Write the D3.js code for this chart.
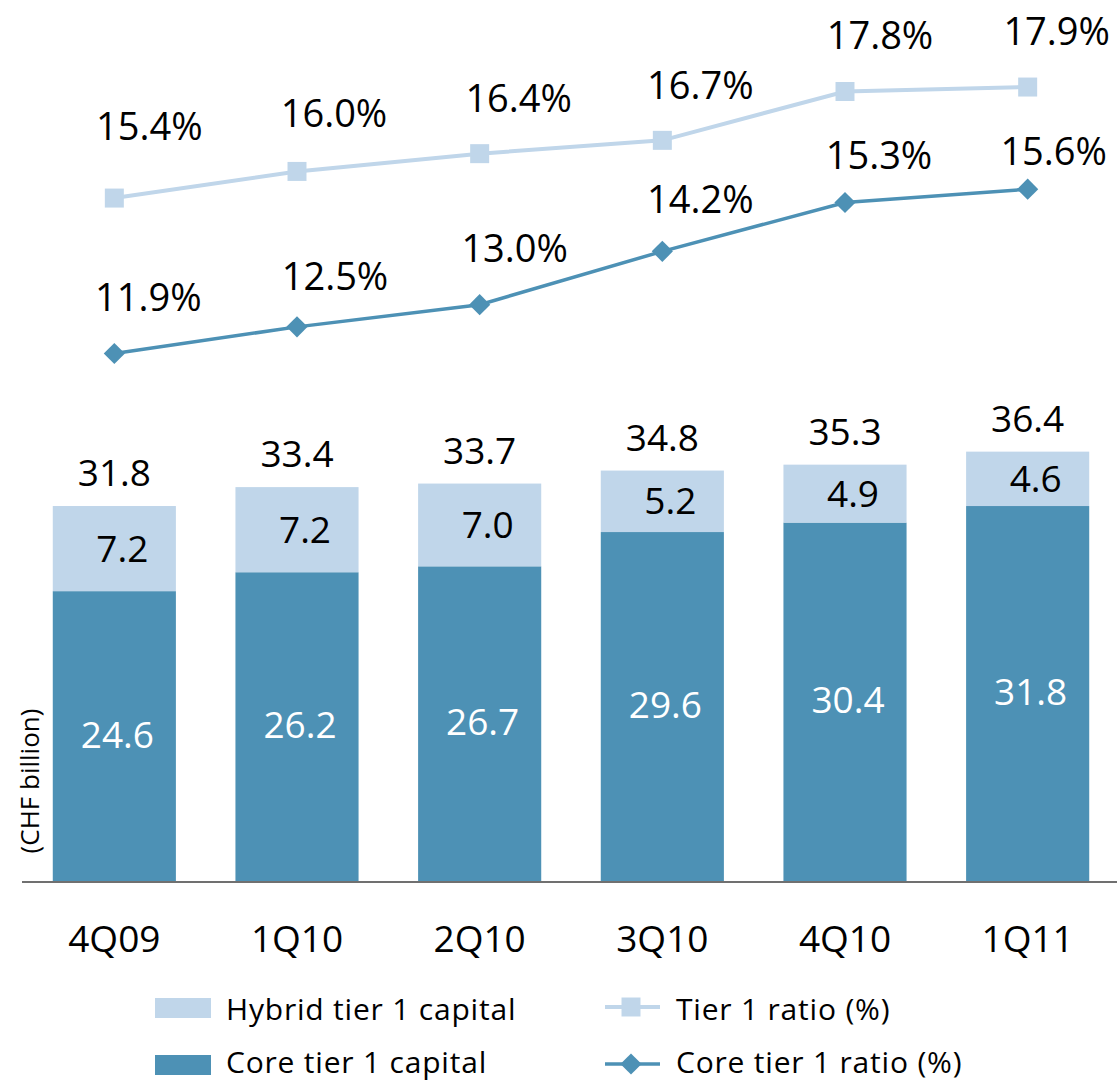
<!DOCTYPE html>
<html>
<head>
<meta charset="utf-8">
<title>Tier 1 capital</title>
<script src="https://cdn.jsdelivr.net/npm/d3@7"></script>
<style>
    body { margin: 0; background: #fff; }
    text { font-family: "Open Sans", "DejaVu Sans", sans-serif; fill: #000; }
</style>
</head>
<body>
<svg id="chart" width="1117" height="1082"></svg>
<script>
    // data
    var quarters = ["4Q09", "1Q10", "2Q10", "3Q10", "4Q10", "1Q11"];
    var coreCapital = [24.6, 26.2, 26.7, 29.6, 30.4, 31.8];
    var hybridCapital = [7.2, 7.2, 7.0, 5.2, 4.9, 4.6];
    var totalCapital = [31.8, 33.4, 33.7, 34.8, 35.3, 36.4];
    var tier1Ratio = [15.4, 16.0, 16.4, 16.7, 17.8, 17.9];
    var coreTier1Ratio = [11.9, 12.5, 13.0, 14.2, 15.3, 15.6];

    // label nudges (layout only)
    var tierLabelDx = [35, 37, 39, 38, 35, 29];
    var tierLabelDy = [-58, -44, -42, -41, -42, -42];
    var coreLabelDx = [34, 38, 35, 38, 34, 26];
    var coreLabelDy = [-43, -37, -43, -38, -34, -24];

    var lightBlue = "#c0d6ea";
    var darkBlue = "#4d91b5";
    var base = 882;

    var svg = d3.select("#chart");

    var x = d3.scaleBand().domain(quarters).range([23, 1119])
        .paddingInner(0.326).paddingOuter(0.163);
    var yBar = d3.scaleLinear().domain([0, 74.6]).range([base, 0]);
    var yLine = d3.scaleLinear().domain([0, 19.86]).range([base, 0]);

    var rows = quarters.map(function(q, i) {
        return { q: q, i: i, core: coreCapital[i], hybrid: hybridCapital[i], total: totalCapital[i] };
    });
    var cx = function(d) { return x(d.q) + x.bandwidth() / 2; };

    // bars
    var bars = svg.append("g");
    bars.selectAll(".core").data(rows).enter().append("rect")
        .attr("x", function(d) { return x(d.q); })
        .attr("width", x.bandwidth())
        .attr("y", function(d) { return yBar(d.core); })
        .attr("height", function(d) { return base - yBar(d.core); })
        .attr("fill", darkBlue);
    bars.selectAll(".hyb").data(rows).enter().append("rect")
        .attr("x", function(d) { return x(d.q); })
        .attr("width", x.bandwidth())
        .attr("y", function(d) { return yBar(d.core + d.hybrid); })
        .attr("height", function(d) { return yBar(d.core) - yBar(d.core + d.hybrid); })
        .attr("fill", lightBlue);

    // bar labels
    bars.selectAll(".tot").data(rows).enter().append("text")
        .attr("x", cx)
        .attr("y", function(d) { return yBar(d.core + d.hybrid) - 20; })
        .attr("text-anchor", "middle").attr("font-size", 37)
        .text(function(d) { return d.total.toFixed(1); });
    bars.selectAll(".hl").data(rows).enter().append("text")
        .attr("x", function(d) { return cx(d) + 8; })
        .attr("y", function(d) { return (yBar(d.core) + yBar(d.core + d.hybrid)) / 2 + 13; })
        .attr("text-anchor", "middle").attr("font-size", 37)
        .text(function(d) { return d.hybrid.toFixed(1); });
    bars.selectAll(".cl").data(rows).enter().append("text")
        .attr("x", function(d) { return cx(d) + 3; })
        .attr("y", function(d) { return (yBar(d.core) + base) / 2 + 11; })
        .attr("text-anchor", "middle").attr("font-size", 37)
        .style("fill", "#fff")
        .text(function(d) { return d.core.toFixed(1); });

    // baseline
    svg.append("line")
        .attr("x1", 22).attr("x2", 1117).attr("y1", base).attr("y2", base)
        .attr("stroke", "#707070").attr("stroke-width", 2);

    // category labels
    svg.append("g").selectAll("text").data(rows).enter().append("text")
        .attr("x", cx).attr("y", 952)
        .attr("text-anchor", "middle").attr("font-size", 37)
        .text(function(d) { return d.q; });

    // axis title
    svg.append("text")
        .attr("transform", "translate(39,781) rotate(-90)")
        .attr("text-anchor", "middle").attr("font-size", 26)
        .text("(CHF billion)");

    // lines
    var square = d3.symbol().type(d3.symbolSquare).size(361);
    var diamond = d3.symbol().type(d3.symbolSquare).size(225);

    function drawSeries(values, color, width, sym, rot, dxs, dys) {
        var g = svg.append("g");
        var pts = values.map(function(v, i) { return { q: quarters[i], v: v, i: i }; });
        g.append("path").datum(pts)
            .attr("fill", "none").attr("stroke", color).attr("stroke-width", width)
            .attr("d", d3.line().x(cx).y(function(d) { return yLine(d.v); }));
        g.selectAll(".m").data(pts).enter().append("path")
            .attr("d", sym).attr("fill", color)
            .attr("transform", function(d) {
                return "translate(" + cx(d) + "," + yLine(d.v) + ") rotate(" + rot + ")";
            });
        g.selectAll(".t").data(pts).enter().append("text")
            .attr("x", function(d) { return cx(d) + dxs[d.i]; })
            .attr("y", function(d) { return yLine(d.v) + dys[d.i]; })
            .attr("text-anchor", "middle").attr("font-size", 38)
            .text(function(d) { return d.v.toFixed(1) + "%"; });
    }
    drawSeries(tier1Ratio, lightBlue, 4, square, 0, tierLabelDx, tierLabelDy);
    drawSeries(coreTier1Ratio, darkBlue, 3.5, diamond, 45, coreLabelDx, coreLabelDy);

    // legend
    var leg = svg.append("g");
    var legBars = [
        { label: "Hybrid tier 1 capital", color: lightBlue, y: 998, ty: 1020 },
        { label: "Core tier 1 capital", color: darkBlue, y: 1055, ty: 1073 }
    ];
    leg.selectAll(".lb").data(legBars).enter().append("rect")
        .attr("x", 155).attr("y", function(d) { return d.y; })
        .attr("width", 56).attr("height", 20).attr("fill", function(d) { return d.color; });
    leg.selectAll(".lbt").data(legBars).enter().append("text")
        .attr("x", 226).attr("y", function(d) { return d.ty; })
        .attr("font-size", 30).attr("letter-spacing", 0.8)
        .text(function(d) { return d.label; });

    var legLines = [
        { label: "Tier 1 ratio (%)", color: lightBlue, y: 1007, ty: 1020, sym: square, rot: 0, w: 4 },
        { label: "Core tier 1 ratio (%)", color: darkBlue, y: 1064, ty: 1073, sym: diamond, rot: 45, w: 3.5 }
    ];
    legLines.forEach(function(d) {
        leg.append("line").attr("x1", 605).attr("x2", 660).attr("y1", d.y).attr("y2", d.y)
            .attr("stroke", d.color).attr("stroke-width", d.w);
        leg.append("path").attr("d", d.sym).attr("fill", d.color)
            .attr("transform", "translate(631," + d.y + ") rotate(" + d.rot + ")");
        leg.append("text").attr("x", 676).attr("y", d.ty)
            .attr("font-size", 30).attr("letter-spacing", 0.8).text(d.label);
    });
</script>
</body>
</html>
